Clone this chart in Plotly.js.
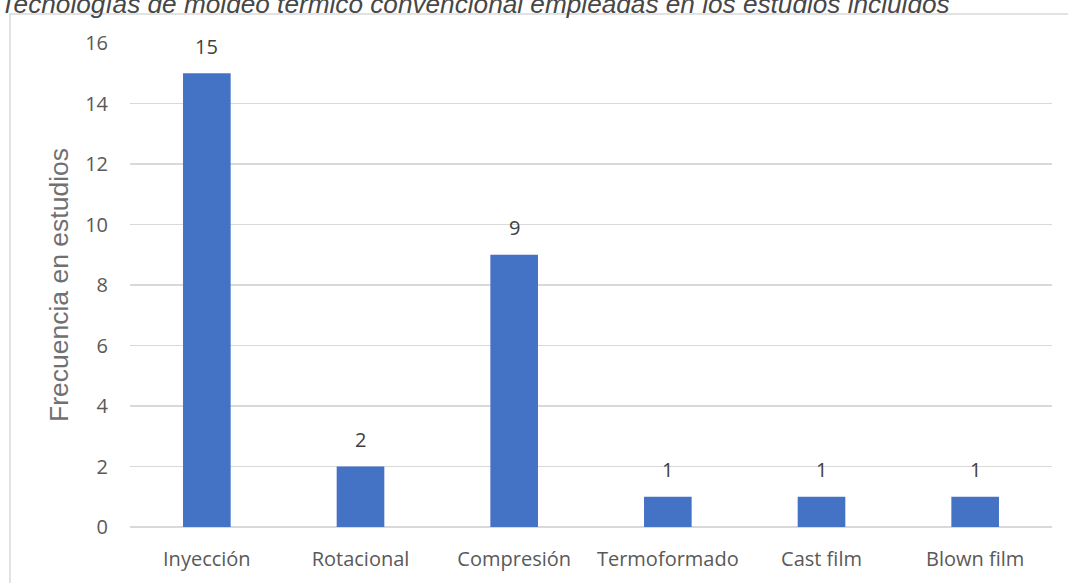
<!DOCTYPE html>
<html>
<head>
<meta charset="utf-8">
<script src="https://cdn.plot.ly/plotly-3.0.1.min.js"></script>
<style>
  html, body { margin: 0; padding: 0; background: #ffffff; }
  #chart { width: 1068px; height: 583px; }
</style>
</head>
<body>
<div id="chart"></div>
<script>
// Tecnologías de moldeo y número de estudios que las emplean
const categories = ['Inyección', 'Rotacional', 'Compresión', 'Termoformado', 'Cast film', 'Blown film'];
const frequencies = [15, 2, 9, 1, 1, 1];
const yTicks = [0, 2, 4, 6, 8, 10, 12, 14, 16];

const labelFont = { family: 'Open Sans, sans-serif', size: 20, color: '#595959' };

const trace = {
  type: 'bar',
  x: categories,
  y: frequencies,
  width: 0.31,
  marker: { color: '#4472C4', line: { width: 0 } },
  hoverinfo: 'x+y'
};

// Etiquetas de valor sobre cada barra
const valueLabels = categories.map((c, i) => ({
  x: c,
  y: frequencies[i],
  xref: 'x',
  yref: 'y',
  text: String(frequencies[i]),
  showarrow: false,
  yanchor: 'middle',
  yshift: 27,
  font: { family: 'Open Sans, sans-serif', size: 20, color: '#404040' }
}));

const layout = {
  width: 1068,
  height: 583,
  margin: { l: 130, r: 16, t: 43, b: 56 },
  paper_bgcolor: '#ffffff',
  plot_bgcolor: '#ffffff',
  showlegend: false,
  bargap: 0.69,
  title: {
    text: 'Tecnologías de moldeo térmico convencional empleadas en los estudios incluidos',
    x: 0,
    xref: 'container',
    xanchor: 'left',
    y: 1 - 13 / 583,
    yref: 'container',
    yanchor: 'bottom',
    pad: { l: 0, t: 0, b: 0 },
    font: { family: 'Liberation Sans, Arial, sans-serif', size: 26.2, color: '#474747', style: 'italic' }
  },
  xaxis: {
    type: 'category',
    showgrid: false,
    showline: false,
    zeroline: false,
    ticks: '',
    ticklabelstandoff: 18,
    tickfont: labelFont,
    fixedrange: true
  },
  yaxis: {
    range: [0, 16],
    tickvals: yTicks,
    ticktext: yTicks.map(String),
    showgrid: true,
    gridcolor: '#d9d9d9',
    gridwidth: 1.5,
    zeroline: true,
    zerolinecolor: '#d9d9d9',
    zerolinewidth: 1.5,
    showline: false,
    ticks: '',
    ticklabelstandoff: 21,
    tickfont: labelFont,
    title: {
      text: 'Frecuencia en estudios',
      standoff: 8,
      font: { family: 'Liberation Sans, Arial, sans-serif', size: 26.5, color: '#707070' }
    },
    fixedrange: true
  },
  annotations: valueLabels,
  shapes: [
    {
      type: 'rect',
      xref: 'paper', yref: 'paper',
      x0: (10 - 130) / 922, x1: (1075 - 130) / 922,
      y0: (527 - 595) / 484, y1: (527 - 14) / 484,
      line: { color: '#d9d9d9', width: 1.5 },
      fillcolor: 'rgba(0,0,0,0)',
      layer: 'below'
    }
  ]
};

Plotly.newPlot('chart', [trace], layout, { displayModeBar: false, staticPlot: true });
</script>
</body>
</html>
